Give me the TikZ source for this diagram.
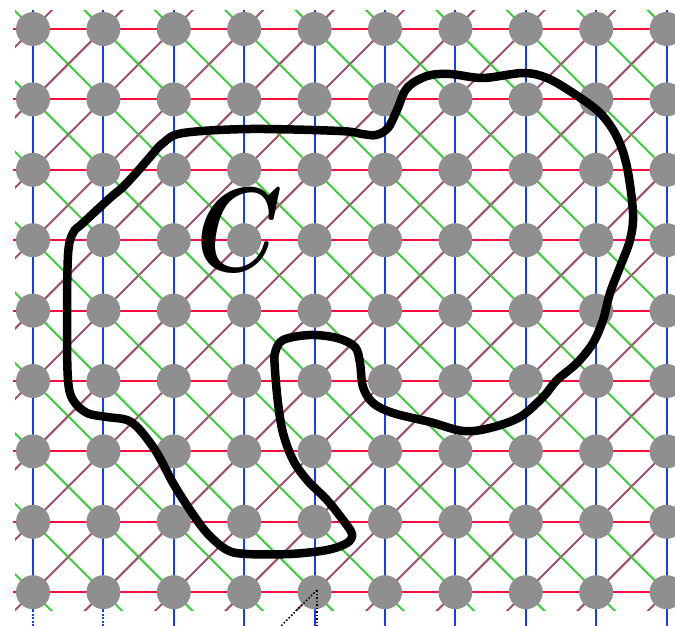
\documentclass[tikz,border=0pt]{standalone}
\usetikzlibrary{calc}
\definecolor{gridred}{HTML}{FF0A3C}
\definecolor{gridblue}{HTML}{1040F0}
\definecolor{gridgreen}{HTML}{3CCC3C}
\definecolor{gridpurple}{HTML}{A0506E}
\definecolor{dotgray}{HTML}{8F8F8F}
\tikzset{
  redline/.style={draw=gridred, line width=2pt},
  blueline/.style={draw=gridblue, line width=2pt},
  greenline/.style={draw=gridgreen, line width=2pt},
  purpleline/.style={draw=gridpurple, line width=2pt},
  dotnode/.style={circle, fill=dotgray, minimum size=34pt, inner sep=0pt},
  contour/.style={draw=black, line width=8.5pt, line join=round},
  dotconn/.style={draw=black, line width=1.5pt, dash pattern=on 1.5pt off 2pt},
}
\begin{document}
\begin{tikzpicture}[x=1pt,y=-1pt]
\useasboundingbox (0,0) rectangle (675,626);
\foreach \i in {0,...,9}
  \foreach \j in {0,...,8}
    \coordinate (p-\i-\j) at ({33+70.4*\i},{29+70.4*\j});
% horizontal lines
\foreach \j in {0,...,8}
  \draw[redline] ($(p-0-\j)+(-20,0)$) -- ($(p-9-\j)+(20,0)$);
% vertical lines
\foreach \i in {0,...,9}
  \draw[blueline] ($(p-\i-0)+(0,-19)$) -- ($(p-\i-8)+(0,18)$);
\foreach \i in {0,1}
  \draw[blueline, dash pattern=on 2pt off 1.5pt] ($(p-\i-8)+(0,18)$) -- ($(p-\i-8)+(0,36)$);
\foreach \i in {2,...,9}
  \draw[blueline] ($(p-\i-8)+(0,18)$) -- ($(p-\i-8)+(0,36)$);
% diagonals
\begin{scope}
  \clip (15,11) rectangle (675,610);
  \foreach \i in {0,...,9}
    \foreach \j in {0,...,8} {
      \draw[greenline] ($(p-\i-\j)+(-35.2,-35.2)$) -- ($(p-\i-\j)+(35.2,35.2)$);
      \draw[purpleline] ($(p-\i-\j)+(-35.2,35.2)$) -- ($(p-\i-\j)+(35.2,-35.2)$);
    }
\end{scope}
% dots
\foreach \i in {0,...,9}
  \foreach \j in {0,...,8}
    \node[dotnode] (d-\i-\j) at (p-\i-\j) {};
% dotted cone
\coordinate (apex) at (317,590);
\coordinate (endA) at (317,630);
\coordinate (endB) at (277,630);
\draw[dotconn] (apex) -- (endA);
\draw[dotconn] (apex) -- (endB);
% contour
\draw[contour] plot[smooth cycle, tension=0.55] coordinates {
 (183,133) (250,129) (340,131) (362,134) (376,135) (388,128) (397,110) (407,88)
 (427,76) (450,74) (483,78) (523,73) (547,78) (573,93) (600,113) (617,137)
 (627,167) (633,213) (630,240) (620,267) (610,293) (603,320) (593,343) (577,363)
 (557,380) (543,397) (520,417) (490,428) (463,431) (430,422) (393,413) (373,403)
 (363,387) (360,363) (355,347) (337,338) (310,335) (283,340) (275,353) (275,370)
 (278,403) (283,433) (293,460) (307,480) (327,500) (343,520) (352,534) (347,543)
 (327,550) (290,554) (247,554) (227,550) (207,533) (190,510) (173,483) (157,453)
 (140,430) (127,420) (107,417) (87,413) (73,400) (68,380) (67,327) (68,255)
 (73,233) (83,223) (110,198) (123,187) (137,172) (150,157) (163,143)
};
\node (lbl) at (240,230) {\scalebox{9.8}[12]{\mathversion{bold}$C$}};
\end{tikzpicture}
\end{document}
